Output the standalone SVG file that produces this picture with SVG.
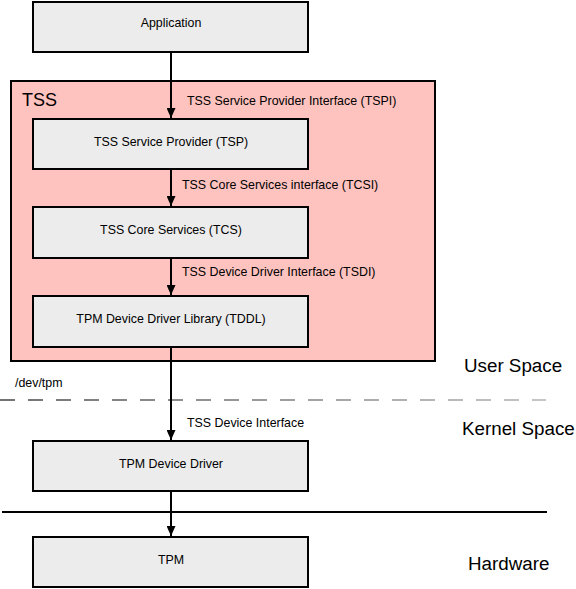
<svg xmlns="http://www.w3.org/2000/svg" width="576" height="589" viewBox="0 0 576 589">
<style>
text{font-family:"Liberation Sans",Arial,sans-serif;fill:#000}
.box{fill:#ececec;stroke:#000;stroke-width:2}
.lbl{font-size:12.4px;text-anchor:middle}
.if{font-size:12.4px}
.zone{font-size:18.8px}
.conn{stroke:#000;stroke-width:2;fill:none;marker-end:url(#ah)}
</style>
<defs>
<marker id="ah" markerWidth="10" markerHeight="9" refX="10" refY="4.5" orient="auto" markerUnits="userSpaceOnUse">
<path d="M0,0 L10,4.5 L0,9 Z" fill="#000"/>
</marker>
<linearGradient id="dg" gradientUnits="userSpaceOnUse" x1="0" y1="0" x2="546" y2="0">
<stop offset="0" stop-color="#444"/>
<stop offset="1" stop-color="#b4b4b4"/>
</linearGradient>
</defs>
<rect width="576" height="589" fill="#fff"/>
<g id="tss">
<rect x="11" y="81" width="424" height="280" fill="#ffc3bf" stroke="#000" stroke-width="2"/>
<text x="22" y="106" style="font-size:18px">TSS</text>
</g>
<g id="separators">
<line x1="0" y1="400" x2="546" y2="400" stroke="url(#dg)" stroke-width="1.5" stroke-dasharray="15 13"/>
<line x1="2" y1="512" x2="547" y2="512" stroke="#000" stroke-width="2"/>
</g>
<g id="connectors">
<line class="conn" x1="171" y1="53" x2="171" y2="118"/>
<line class="conn" x1="171" y1="170" x2="171" y2="206"/>
<line class="conn" x1="171" y1="259" x2="171" y2="295"/>
<line class="conn" x1="171" y1="348" x2="171" y2="440"/>
<line class="conn" x1="171" y1="492" x2="171" y2="536"/>
<text class="if" x="187" y="105">TSS Service Provider Interface (TSPI)</text>
<text class="if" x="182" y="189">TSS Core Services interface (TCSI)</text>
<text class="if" x="182" y="276">TSS Device Driver Interface (TSDI)</text>
<text class="if" x="15" y="387">/dev/tpm</text>
<text class="if" x="187" y="427">TSS Device Interface</text>
</g>
<g id="application">
<rect class="box" x="33" y="2" width="275" height="50"/>
<text class="lbl" x="171" y="27">Application</text>
</g>
<g id="tsp">
<rect class="box" x="33" y="119" width="275" height="50"/>
<text class="lbl" x="171" y="146">TSS Service Provider (TSP)</text>
</g>
<g id="tcs">
<rect class="box" x="33" y="207" width="275" height="51"/>
<text class="lbl" x="171" y="234">TSS Core Services (TCS)</text>
</g>
<g id="tddl">
<rect class="box" x="33" y="296" width="275" height="51"/>
<text class="lbl" x="171" y="323">TPM Device Driver Library (TDDL)</text>
</g>
<g id="tpmdd">
<rect class="box" x="33" y="441" width="275" height="50"/>
<text class="lbl" x="171" y="468">TPM Device Driver</text>
</g>
<g id="tpm">
<rect class="box" x="33" y="537" width="275" height="50"/>
<text class="lbl" x="171" y="564">TPM</text>
</g>
<g id="zones">
<text class="zone" x="464" y="372">User Space</text>
<text class="zone" x="462" y="435">Kernel Space</text>
<text class="zone" x="468" y="570">Hardware</text>
</g>
</svg>
